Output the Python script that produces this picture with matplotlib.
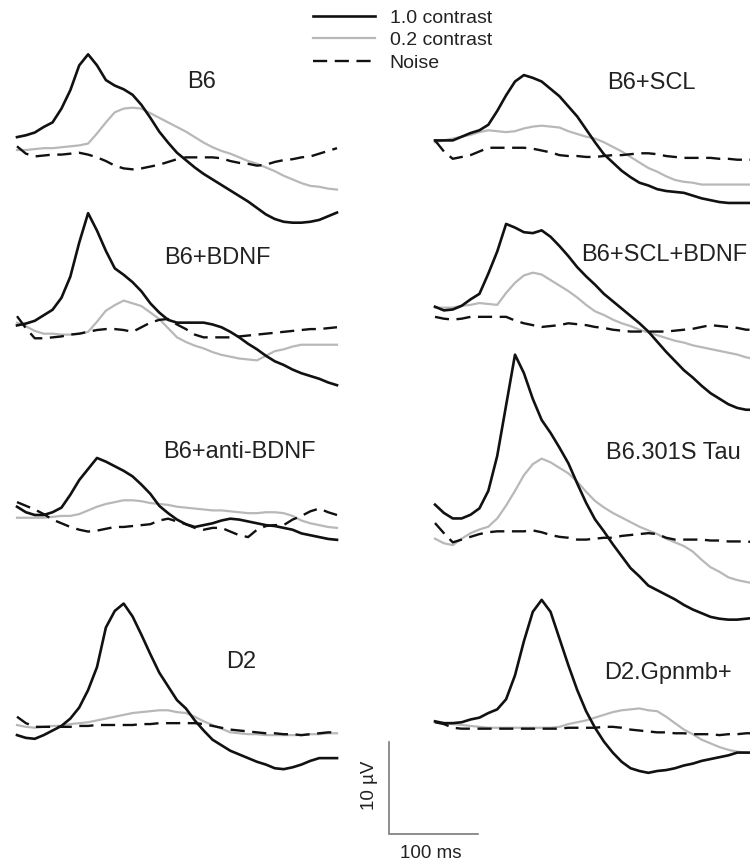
import matplotlib
matplotlib.use("Agg")
import matplotlib.pyplot as plt

plt.rcParams["font.family"] = ["Liberation Sans", "DejaVu Sans"]

## Data (µV, sampled every 10 ms from stimulus onset)

TIME_MS = list(range(0, 361, 10))

B6_HIGH = [1.4, 1.6, 1.9, 2.5, 3.0, 4.5, 6.5, 9.2, 10.4, 9.2, 7.6, 7.0, 6.6, 6.0, 4.9, 3.5, 2.0, 0.8, -0.3,
           -1.1, -1.9, -2.6, -3.2, -3.8, -4.4, -5.0, -5.6, -6.3, -7.0, -7.5, -7.8, -7.9, -7.9, -7.8, -7.6, -7.2, -6.8]
B6_LOW = [0.0, 0.0, 0.1, 0.2, 0.2, 0.3, 0.4, 0.5, 0.7, 1.8, 3.0, 4.1, 4.5, 4.6, 4.5, 4.0, 3.5, 3.0, 2.5,
          2.0, 1.4, 0.8, 0.3, -0.1, -0.4, -0.8, -1.2, -1.5, -1.9, -2.3, -2.8, -3.2, -3.6, -3.9, -4.0, -4.2, -4.3]
B6_NOISE = [0.4, -0.4, -0.7, -0.6, -0.5, -0.5, -0.4, -0.3, -0.5, -0.8, -1.2, -1.7, -2.0, -2.1, -2.0, -1.8, -1.6, -1.3, -1.0,
            -0.8, -0.8, -0.8, -0.8, -0.9, -1.2, -1.4, -1.5, -1.7, -1.6, -1.3, -1.1, -1.0, -0.8, -0.7, -0.4, -0.1, 0.2]

BDNF_HIGH = [0.5, 0.7, 1.0, 1.6, 2.2, 3.5, 5.8, 9.5, 12.7, 10.8, 8.6, 6.7, 6.0, 5.2, 4.2, 2.9, 1.9, 1.1, 0.8,
             0.8, 0.8, 0.8, 0.6, 0.3, -0.2, -0.8, -1.5, -2.1, -2.8, -3.4, -3.8, -4.3, -4.7, -5.0, -5.3, -5.7, -6.0]
BDNF_LOW = [0.8, 0.4, -0.1, -0.4, -0.4, -0.5, -0.5, -0.4, -0.2, 0.9, 2.1, 2.7, 3.2, 2.9, 2.6, 1.9, 1.2, 0.2, -0.8,
            -1.3, -1.7, -2.0, -2.4, -2.7, -2.9, -3.1, -3.2, -3.3, -2.8, -2.3, -2.1, -1.8, -1.6, -1.6, -1.6, -1.6, -1.6]
BDNF_NOISE = [1.5, 0.2, -0.9, -0.9, -0.8, -0.7, -0.5, -0.4, -0.2, 0.0, 0.1, 0.1, 0.0, -0.2, 0.3, 0.8, 1.1, 1.2, 0.6,
              0.1, -0.5, -0.8, -0.8, -0.8, -0.8, -0.7, -0.6, -0.5, -0.4, -0.3, -0.2, -0.1, 0.0, 0.1, 0.1, 0.2, 0.3]

ANTI_HIGH = [0.9, 0.3, 0.0, 0.0, 0.3, 0.8, 2.2, 3.8, 5.0, 6.2, 5.8, 5.3, 4.8, 4.2, 3.3, 2.3, 1.0, 0.2, -0.5,
             -1.0, -1.3, -1.1, -0.9, -0.6, -0.4, -0.5, -0.7, -0.9, -1.1, -1.2, -1.4, -1.6, -2.0, -2.2, -2.4, -2.6, -2.7]
ANTI_LOW = [-0.3, -0.3, -0.3, -0.3, -0.2, -0.1, -0.1, 0.1, 0.5, 0.9, 1.2, 1.4, 1.6, 1.6, 1.5, 1.3, 1.2, 1.1, 0.9,
            0.8, 0.7, 0.6, 0.5, 0.5, 0.4, 0.3, 0.2, 0.2, 0.3, 0.3, 0.2, -0.1, -0.6, -0.9, -1.1, -1.3, -1.4]
ANTI_NOISE = [1.4, 1.0, 0.6, 0.1, -0.5, -0.9, -1.3, -1.6, -1.8, -1.7, -1.5, -1.3, -1.3, -1.2, -1.1, -1.0, -0.6, -0.4, -0.7,
              -1.0, -1.4, -1.6, -1.4, -1.4, -1.8, -2.2, -2.4, -1.6, -1.2, -1.1, -1.1, -0.5, -0.1, 0.4, 0.7, 0.3, 0.0]

D2_HIGH = [-1.1, -1.4, -1.5, -1.1, -0.6, -0.1, 0.7, 1.9, 3.8, 6.3, 10.6, 12.4, 13.2, 11.8, 9.8, 7.7, 5.7, 4.2, 2.7,
           1.8, 0.5, -0.6, -1.6, -2.2, -2.8, -3.2, -3.6, -4.0, -4.3, -4.7, -4.8, -4.6, -4.3, -3.9, -3.6, -3.6, -3.6]
D2_LOW = [0.0, -0.2, -0.3, -0.2, -0.1, -0.1, 0.1, 0.2, 0.3, 0.5, 0.7, 0.9, 1.1, 1.3, 1.4, 1.5, 1.6, 1.6, 1.4,
          1.3, 0.9, 0.4, 0.0, -0.4, -0.8, -0.9, -1.0, -1.0, -1.1, -1.1, -1.1, -1.1, -1.1, -1.0, -1.0, -0.9, -0.9]
D2_NOISE = [0.9, 0.2, -0.2, -0.2, -0.2, -0.2, -0.2, -0.1, -0.1, 0.0, 0.0, 0.0, 0.0, 0.0, 0.1, 0.1, 0.2, 0.2, 0.2,
            0.2, 0.2, 0.1, -0.1, -0.3, -0.5, -0.6, -0.7, -0.8, -0.9, -0.9, -1.0, -1.0, -1.1, -1.0, -0.9, -0.8, -0.8]

SCL_HIGH = [0.5, 0.5, 0.5, 0.9, 1.3, 1.6, 2.2, 3.7, 5.4, 6.9, 7.6, 7.3, 6.9, 6.1, 5.3, 4.2, 3.1, 1.7, 0.3,
            -1.0, -1.9, -2.8, -3.5, -4.1, -4.4, -4.8, -5.0, -5.1, -5.2, -5.5, -5.8, -6.0, -6.2, -6.3, -6.3, -6.3, -6.3]
SCL_LOW = [0.3, 0.5, 0.7, 0.9, 1.1, 1.4, 1.6, 1.5, 1.4, 1.5, 1.8, 2.0, 2.1, 2.0, 1.9, 1.5, 1.2, 0.9, 0.7,
           0.3, -0.2, -0.7, -1.3, -1.9, -2.5, -2.9, -3.4, -3.8, -4.0, -4.1, -4.3, -4.3, -4.3, -4.3, -4.3, -4.3, -4.3]
SCL_NOISE = [0.5, -0.7, -1.5, -1.3, -1.1, -0.7, -0.3, -0.3, -0.3, -0.3, -0.3, -0.4, -0.6, -0.8, -1.1, -1.2, -1.2, -1.3, -1.3,
             -1.2, -1.1, -1.1, -1.0, -0.9, -0.9, -1.0, -1.2, -1.3, -1.4, -1.4, -1.4, -1.4, -1.5, -1.5, -1.6, -1.6, -1.6]

SCL_BDNF_HIGH = [0.9, 0.5, 0.6, 1.0, 1.7, 2.3, 4.5, 6.9, 9.9, 9.5, 9.0, 8.9, 9.2, 8.5, 7.5, 6.4, 5.2, 4.2, 3.3,
                 2.3, 1.5, 0.7, -0.1, -0.9, -1.8, -2.9, -4.0, -5.0, -6.0, -6.8, -7.7, -8.5, -9.1, -9.7, -10.1, -10.3, -10.3]
SCL_BDNF_LOW = [0.8, 0.8, 0.8, 1.0, 1.1, 1.3, 1.2, 1.1, 2.4, 3.5, 4.3, 4.6, 4.4, 3.8, 3.2, 2.6, 1.9, 1.1, 0.4,
                0.0, -0.5, -0.9, -1.2, -1.6, -1.9, -2.2, -2.5, -2.8, -3.0, -3.3, -3.5, -3.7, -3.9, -4.1, -4.3, -4.6, -4.8]
SCL_BDNF_NOISE = [-0.2, -0.4, -0.5, -0.4, -0.2, -0.2, -0.2, -0.2, -0.2, -0.6, -0.9, -1.1, -1.3, -1.2, -1.1, -0.9, -1.0, -1.1, -1.3,
                  -1.4, -1.6, -1.7, -1.8, -1.8, -1.8, -1.8, -1.8, -1.7, -1.6, -1.5, -1.3, -1.1, -1.2, -1.3, -1.4, -1.6, -1.6]

TAU_HIGH = [3.3, 2.4, 1.8, 1.8, 2.2, 2.9, 4.8, 8.6, 14.1, 19.6, 17.6, 14.8, 12.5, 11.1, 9.5, 7.8, 5.6, 3.5, 1.7,
            0.4, -1.0, -2.3, -3.6, -4.5, -5.5, -6.0, -6.5, -7.0, -7.6, -8.1, -8.5, -8.9, -9.1, -9.2, -9.2, -9.1, -9.0]
TAU_LOW = [-0.4, -0.9, -1.1, -0.4, 0.2, 0.6, 0.9, 1.8, 3.2, 4.8, 6.5, 7.7, 8.3, 7.9, 7.3, 6.7, 5.8, 4.7, 3.7,
           3.0, 2.4, 1.9, 1.4, 0.9, 0.5, 0.1, -0.4, -0.8, -1.2, -1.8, -2.7, -3.5, -4.0, -4.6, -4.9, -5.1, -5.3]
TAU_NOISE = [1.3, 0.2, -0.8, -0.5, -0.2, 0.1, 0.3, 0.4, 0.4, 0.4, 0.4, 0.5, 0.3, 0.0, -0.2, -0.3, -0.5, -0.5, -0.4,
             -0.3, -0.3, -0.1, 0.0, 0.1, 0.2, 0.1, -0.3, -0.5, -0.5, -0.5, -0.5, -0.6, -0.6, -0.7, -0.7, -0.7, -0.8]

GPNMB_HIGH = [0.4, 0.2, 0.2, 0.3, 0.6, 0.8, 1.3, 1.7, 2.8, 5.4, 9.1, 12.3, 13.6, 12.3, 9.4, 6.5, 3.8, 1.5, -0.3,
              -1.8, -3.0, -4.0, -4.7, -5.0, -5.2, -5.0, -4.9, -4.7, -4.4, -4.2, -3.9, -3.7, -3.5, -3.3, -3.0, -3.0, -3.0]
GPNMB_LOW = [0.3, 0.2, 0.1, 0.0, -0.1, -0.2, -0.3, -0.3, -0.3, -0.3, -0.3, -0.3, -0.3, -0.3, -0.2, 0.1, 0.3, 0.5, 0.8,
             1.1, 1.4, 1.6, 1.7, 1.8, 1.6, 1.5, 0.9, 0.2, -0.5, -1.0, -1.6, -2.0, -2.4, -2.7, -2.9, -3.0, -3.1]
GPNMB_NOISE = [0.3, 0.1, -0.3, -0.4, -0.4, -0.4, -0.4, -0.4, -0.4, -0.4, -0.4, -0.4, -0.4, -0.4, -0.4, -0.3, -0.3, -0.3, -0.3,
               -0.2, -0.2, -0.3, -0.5, -0.6, -0.7, -0.8, -0.8, -0.9, -0.9, -1.0, -1.0, -1.0, -1.1, -1.0, -1.0, -0.9, -0.9]

LABELS = ["B6", "B6+BDNF", "B6+anti-BDNF", "D2",
          "B6+SCL", "B6+SCL+BDNF", "B6.301S Tau", "D2.Gpnmb+"]
LEGEND_LABELS = ["1.0 contrast", "0.2 contrast", "Noise"]

SCALE_MS = 100
SCALE_UV = 10

## Layout (pixels on a 750x863 canvas)

W, H = 750, 863
PX_PER_MS = 320 / 360
PX_PER_UV = 9.2

COL_LEFT = [17, 435]
ROW_BASE = [[150, 330, 515, 725], [145, 315, 535, 725]]
LABEL_POS = [[(202, 82), (217, 258), (239, 452), (241, 662)],
             [(651, 83), (664, 255), (673, 453), (668, 673)]]

HIGH_COLOR = "#111111"
LOW_COLOR = "#b8b8b8"
NOISE_COLOR = "#111111"
TEXT_COLOR = "#222222"
SCALE_COLOR = "#7a7a7a"
DASH = (0, (6, 3.2))

fig = plt.figure(figsize=(W / 100, H / 100), dpi=100)
fig.set_facecolor("white")


def px_axes(left, top, width, height):
    return fig.add_axes([left / W, 1 - (top + height) / H, width / W, height / H])


def panel_axes(left, base):
    # 0 µV sits on the baseline pixel row
    ax = px_axes(left, base - 12 * PX_PER_UV, 360 * PX_PER_MS, 20 * PX_PER_UV)
    ax.set_xlim(0, 360)
    ax.set_ylim(-8, 12)
    ax.axis("off")
    return ax


panels = [
    (B6_HIGH, B6_LOW, B6_NOISE), (BDNF_HIGH, BDNF_LOW, BDNF_NOISE),
    (ANTI_HIGH, ANTI_LOW, ANTI_NOISE), (D2_HIGH, D2_LOW, D2_NOISE),
    (SCL_HIGH, SCL_LOW, SCL_NOISE), (SCL_BDNF_HIGH, SCL_BDNF_LOW, SCL_BDNF_NOISE),
    (TAU_HIGH, TAU_LOW, TAU_NOISE), (GPNMB_HIGH, GPNMB_LOW, GPNMB_NOISE),
]

handles = None
for i, (high, low, noise) in enumerate(panels):
    col, row = divmod(i, 4)
    ax = panel_axes(COL_LEFT[col], ROW_BASE[col][row])
    l_low, = ax.plot(TIME_MS, low, color=LOW_COLOR, linewidth=1.6, clip_on=False,
                     solid_joinstyle="round")
    l_noise, = ax.plot(TIME_MS, noise, color=NOISE_COLOR, linewidth=1.7, linestyle=DASH,
                       clip_on=False, dash_joinstyle="round")
    l_high, = ax.plot(TIME_MS, high, color=HIGH_COLOR, linewidth=1.9, clip_on=False,
                      solid_joinstyle="round")
    if handles is None:
        handles = [l_high, l_low, l_noise]
    lx, ly = LABEL_POS[col][row]
    fig.text(lx / W, 1 - ly / H, LABELS[i], ha="center", va="center",
             fontsize=17, color=TEXT_COLOR)

# Legend
fig.legend(handles, LEGEND_LABELS, loc="upper left", bbox_to_anchor=(313 / W, 1 - 9 / H),
           frameon=False, fontsize=14, handlelength=3.2, handletextpad=0.75,
           labelspacing=0.25, borderpad=0, borderaxespad=0, labelcolor=TEXT_COLOR)

# Scale bar
sb = px_axes(389, 834 - SCALE_UV * PX_PER_UV, SCALE_MS * PX_PER_MS, SCALE_UV * PX_PER_UV)
sb.set_xlim(0, SCALE_MS)
sb.set_ylim(0, SCALE_UV)
sb.axis("off")
sb.plot([0, 0, SCALE_MS], [SCALE_UV, 0, 0], color=SCALE_COLOR, linewidth=1.2,
        clip_on=False, solid_joinstyle="miter")
fig.text(370 / W, 1 - 785 / H, "10 µV", rotation=90, ha="center", va="center",
         fontsize=13.5, color=TEXT_COLOR)
fig.text(431 / W, 1 - 853 / H, "100 ms", ha="center", va="center",
         fontsize=13.5, color=TEXT_COLOR)

fig.savefig("out.png", dpi=100, facecolor="white")
